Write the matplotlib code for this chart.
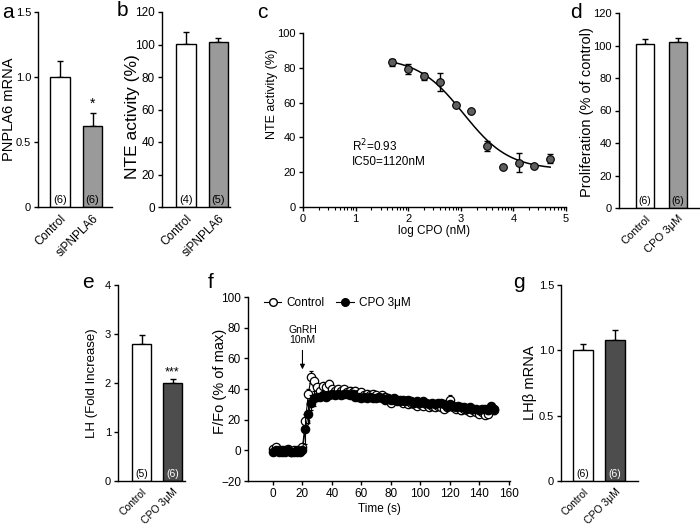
import numpy as np
import matplotlib
matplotlib.use("Agg")
import matplotlib.pyplot as plt
from matplotlib.lines import Line2D

plt.rcParams['font.family'] = ['Liberation Sans', 'DejaVu Sans']
plt.rcParams['axes.linewidth'] = 1.0

# ---------------- data ----------------
a_labels = ["Control", "siPNPLA6"]
a_vals = [1.0, 0.62]
a_err = [0.12, 0.10]
a_n = ["(6)", "(6)"]

b_labels = ["Control", "siPNPLA6"]
b_vals = [100.2, 101.5]
b_err = [7.6, 2.4]
b_n = ["(4)", "(5)"]

c_logx = [1.7, 2.0, 2.3, 2.6, 2.9, 3.2, 3.5, 3.8, 4.1, 4.4, 4.7]
c_y = [83.2, 79.3, 75.0, 71.8, 58.5, 55.2, 35.0, 23.2, 25.5, 23.8, 27.8]
c_err = [2.0, 3.0, 2.2, 5.2, 0.0, 0.0, 2.8, 0.0, 5.5, 0.0, 2.4]
c_top, c_bottom, c_ic50, c_hill = 86.0, 21.5, 1120.0, 1.0

d_labels = ["Control", "CPO 3\u03bcM"]
d_vals = [100.8, 102.3]
d_err = [3.0, 2.3]
d_n = ["(6)", "(6)"]

e_labels = ["Control", "CPO 3\u03bcM"]
e_vals = [2.80, 2.00]
e_err = [0.17, 0.08]
e_n = ["(5)", "(6)"]

g_labels = ["Control", "CPO 3\u03bcM"]
g_vals = [1.005, 1.078]
g_err = [0.045, 0.077]
g_n = ["(6)", "(6)"]

f_time = [0, 2, 4, 6, 8, 10, 12, 14, 16, 18, 20, 22, 24, 26, 28, 30, 32, 34, 36, 38,
          40, 42, 44, 46, 48, 50, 52, 54, 56, 58, 60, 62, 64, 66, 68, 70, 72, 74, 76, 78,
          80, 82, 84, 86, 88, 90, 92, 94, 96, 98, 100, 102, 104, 106, 108, 110, 112, 114, 116, 118,
          120, 122, 124, 126, 128, 130, 132, 134, 136, 138, 140, 142, 144, 146, 148, 150]
f_ctrl = [1, 2, 0, -1, 0, 1, -1, 0, -1, 0, 2, 19, 37, 48, 45, 41, 39, 42, 41, 43,
          40, 39, 40, 39, 40, 38, 39, 38, 39, 37, 38, 36, 37, 36, 37, 36, 35, 36, 35, 33,
          31, 33, 32, 33, 31, 32, 30, 31, 30, 29, 30, 29, 30, 28, 29, 28, 29, 28, 27, 28,
          33, 28, 27, 28, 26, 27, 26, 25, 26, 25, 24, 25, 23, 24, 27, 26]
f_ctrl_err = [1.5, 1.5, 1.5, 1.5, 1.5, 1.5, 1.5, 1.5, 1.5, 1.5, 2.0, 3.0, 3.0, 4.0, 3.0, 2.0, 2.0, 2.0, 2.0, 3.0,
              2.0, 2.0, 2.0, 2.0, 2.0, 2.0, 2.0, 2.0, 2.0, 2.0, 2.0, 2.0, 2.0, 2.0, 2.0, 2.0, 2.0, 2.0, 2.0, 2.0,
              2.0, 2.0, 2.0, 2.0, 2.0, 2.0, 2.0, 2.0, 2.0, 2.0, 2.0, 2.0, 2.0, 2.0, 2.0, 2.0, 2.0, 2.0, 2.0, 2.0,
              3.0, 2.0, 2.0, 2.0, 2.0, 2.0, 2.0, 2.0, 2.0, 2.0, 2.0, 2.0, 2.0, 2.0, 2.0, 2.0]
f_cpo = [-1, 0, -1, 0, -1, 0, -1, -1, 0, -1, 0, 14, 24, 31, 34, 35, 35, 36, 35, 36,
         37, 36, 37, 36, 37, 37, 36, 37, 35, 35, 34, 35, 34, 35, 34, 34, 35, 34, 33, 34,
         33, 34, 33, 32, 33, 32, 33, 32, 31, 32, 31, 32, 31, 30, 31, 30, 31, 31, 30, 29,
         30, 29, 28, 29, 28, 28, 27, 28, 27, 27, 26, 27, 27, 26, 29, 27]
f_cpo_err = [1.0, 1.0, 1.0, 1.0, 1.0, 1.0, 1.0, 1.0, 1.0, 1.0, 1.0, 10.0, 6.0, 5.0, 5.0, 2.0, 2.0, 2.0, 2.0, 2.0,
             2.0, 2.0, 2.0, 2.0, 2.0, 2.0, 2.0, 2.0, 2.0, 2.0, 2.0, 2.0, 2.0, 2.0, 2.0, 2.0, 2.0, 2.0, 2.0, 2.0,
             2.0, 2.0, 2.0, 2.0, 2.0, 2.0, 2.0, 2.0, 2.0, 2.0, 2.0, 2.0, 2.0, 2.0, 2.0, 2.0, 2.0, 2.0, 2.0, 2.0,
             2.0, 2.0, 2.0, 2.0, 2.0, 2.0, 2.0, 2.0, 2.0, 2.0, 2.0, 2.0, 2.0, 2.0, 2.0, 2.0]

LIGHT = "#9a9a9a"
DARK = "#4d4d4d"

W, H = 700, 526
fig = plt.figure(figsize=(W / 100, H / 100), dpi=100)


def rect(l, r, top, bot):
    return (l, r, top, bot), [l / W, 1 - bot / H, (r - l) / W, (bot - top) / H]


def style(ax, tsize):
    for s in ("top", "right"):
        ax.spines[s].set_visible(False)
    ax.tick_params(axis="both", direction="out", length=3, width=1, labelsize=tsize, pad=2)


def place_ylabel(ax, box, cx, cy=None):
    l, r, top, bot = box
    fy = 0.5 if cy is None else (bot - cy) / (bot - top)
    ax.yaxis.set_label_coords((cx - l) / (r - l), fy)
    ax.yaxis.label.set_verticalalignment("center")


def bar_panel(box_pos, labels, vals, errs, ns, colors, ncolors, xlim, width, ylim, yticks, yticklabels,
              ylabel, tsize, lsize, nsize, xsize, lab_x, lab_y=None):
    box, pos = box_pos
    ax = fig.add_axes(pos)
    style(ax, tsize)
    x = np.arange(len(vals))
    ax.bar(x, vals, width=width, color=colors, edgecolor="black", linewidth=1.0, zorder=2)
    ax.errorbar(x, vals, yerr=[np.zeros(len(errs)), errs], fmt="none", ecolor="black",
                elinewidth=1.0, capsize=2.5, capthick=1.0, zorder=1)
    for xi, n, c in zip(x, ns, ncolors):
        ax.annotate(n, xy=(xi, 0), xytext=(0, 1.5), textcoords="offset points",
                    ha="center", va="bottom", fontsize=nsize, color=c, zorder=3)
    ax.set_xlim(*xlim)
    ax.set_ylim(*ylim)
    ax.set_yticks(yticks)
    ax.set_yticklabels(yticklabels)
    ax.set_xticks(x)
    ax.set_xticklabels(labels, rotation=45, ha="right", rotation_mode="anchor", fontsize=xsize)
    ax.tick_params(axis="x", length=0, pad=4)
    ax.set_ylabel(ylabel, fontsize=lsize)
    place_ylabel(ax, box, lab_x, lab_y)
    return ax


# ---- a ----
ax_a = bar_panel(rect(38, 112, 12, 207), a_labels, a_vals, a_err, a_n, ["white", LIGHT],
                 ["black", "black"], (-0.677, 1.6), 0.615, (0, 1.5), [0, 0.5, 1.0, 1.5],
                 ["0", "0.5", "1.0", "1.5"], "PNPLA6 mRNA", 8, 10.5, 8, 8.5, 9.5)
ax_a.text(1, a_vals[1] + a_err[1] + 0.02, "*", ha="center", va="bottom", fontsize=10)

# ---- b ----
ax_b = bar_panel(rect(161.7, 230, 12, 207), b_labels, b_vals, b_err, b_n, ["white", LIGHT],
                 ["black", "black"], (-0.748, 1.354), 0.6, (0, 120), [0, 20, 40, 60, 80, 100, 120],
                 ["0", "20", "40", "60", "80", "100", "120"], "NTE activity (%)", 8.5, 12.5, 8, 8.5,
                 132.5, 117)

# ---- c ----
c_box, c_pos = rect(303, 566, 33, 207)
ax_c = fig.add_axes(c_pos)
style(ax_c, 8)
xx = np.linspace(c_logx[0], c_logx[-1], 200)
yy = c_bottom + (c_top - c_bottom) / (1 + 10 ** ((xx - np.log10(c_ic50)) * c_hill))
ax_c.plot(xx, yy, color="black", lw=1.1, zorder=2)
ax_c.errorbar(c_logx, c_y, yerr=c_err, fmt="none", ecolor="black", elinewidth=1.0,
              capsize=2.5, capthick=1.0, zorder=3)
ax_c.plot(c_logx, c_y, "o", ms=5.5, mfc="#5f5f5f", mec="black", mew=0.8, zorder=4)
ax_c.set_xlim(0, 5)
ax_c.set_ylim(0, 100)
ax_c.set_xticks([0, 1, 2, 3, 4, 5])
ax_c.set_yticks([0, 20, 40, 60, 80, 100])
minor = [d + np.log10(k) for d in range(5) for k in range(2, 10)]
ax_c.set_xticks(minor, minor=True)
ax_c.tick_params(axis="x", which="minor", length=2, width=0.8)
ax_c.set_xlabel("log CPO (nM)", fontsize=8.5, labelpad=1)
ax_c.set_ylabel("NTE activity (%)", fontsize=9)
place_ylabel(ax_c, c_box, 272.5, 94)
ax_c.text(0.93, 35, "R$^2$=0.93", fontsize=8.5, va="center", ha="left")
ax_c.text(0.93, 26, "IC50=1120nM", fontsize=8.5, va="center", ha="left")

# ---- d ----
ax_d = bar_panel(rect(619, 700, 13, 208), d_labels, d_vals, d_err, d_n, ["white", LIGHT],
                 ["black", "black"], (-0.788, 1.667), 0.545, (0, 120), [0, 20, 40, 60, 80, 100, 120],
                 ["0", "20", "40", "60", "80", "100", "120"], "Proliferation (% of control)", 8, 10.5, 7.5, 8,
                 587, 112)

# ---- e ----
ax_e = bar_panel(rect(118, 185, 285, 481), e_labels, e_vals, e_err, e_n, ["white", DARK],
                 ["black", "white"], (-0.758, 1.403), 0.61, (0, 4), [0, 1, 2, 3, 4],
                 ["0", "1", "2", "3", "4"], "LH (Fold Increase)", 8, 9.5, 7.5, 7.5, 92.5)
ax_e.text(1, e_vals[1] + e_err[1] + 0.02, "***", ha="center", va="bottom", fontsize=9)

# ---- f ----
f_box, f_pos = rect(248, 510, 297, 481)
ax_f = fig.add_axes(f_pos)
style(ax_f, 8.5)
ax_f.errorbar(f_time, f_ctrl, yerr=f_ctrl_err, fmt="-o", color="black", lw=0.8, ms=6,
              mfc="white", mec="black", mew=0.9, elinewidth=0.8, capsize=1.5, zorder=2)
ax_f.errorbar(f_time, f_cpo, yerr=f_cpo_err, fmt="-o", color="black", lw=0.8, ms=6,
              mfc="black", mec="black", mew=0.9, elinewidth=0.8, capsize=1.5, zorder=3)
ax_f.set_xlim(-17, 161)
ax_f.set_ylim(-20, 100)
ax_f.set_xticks(range(0, 161, 20))
ax_f.set_yticks(range(-20, 101, 20))
ax_f.set_xlabel("Time (s)", fontsize=8.5, labelpad=2)
ax_f.set_ylabel("F/Fo (% of max)", fontsize=10.5)
place_ylabel(ax_f, f_box, 220, 381)
ax_f.annotate("", xy=(20, 51), xytext=(20, 67),
              arrowprops=dict(arrowstyle="-|>", color="black", lw=0.8, mutation_scale=7))
ax_f.text(20, 75, "GnRH\n10nM", ha="center", va="center", fontsize=7.5, linespacing=1.0)
handles = [Line2D([], [], color="black", lw=0.8, marker="o", ms=5.5, mfc="white", mec="black"),
           Line2D([], [], color="black", lw=0.8, marker="o", ms=5.5, mfc="black", mec="black")]
ax_f.legend(handles, ["Control", "CPO 3\u03bcM"], loc="center left", bbox_to_anchor=(0.06, 0.965),
            ncol=2, frameon=False, fontsize=8.5, handlelength=1.5, handletextpad=0.4,
            columnspacing=1.0, borderpad=0, borderaxespad=0)

# ---- g ----
ax_g = bar_panel(rect(561, 638, 285, 481), g_labels, g_vals, g_err, g_n, ["white", DARK],
                 ["black", "white"], (-0.6875, 1.72), 0.625, (0, 1.5), [0, 0.5, 1.0, 1.5],
                 ["0", "0.5", "1.0", "1.5"], "LH\u03b2 mRNA", 8, 10.5, 7.5, 7.5, 530)

# panel letters
for letter, px, py in [("a", 8, 12), ("b", 122, 10), ("c", 262, 12), ("d", 576, 12),
                       ("e", 88, 283), ("f", 211, 283), ("g", 519, 283)]:
    fig.text(px / W, 1 - py / H, letter, fontsize=15, ha="center", va="center")

fig.savefig("out.png", dpi=100)
